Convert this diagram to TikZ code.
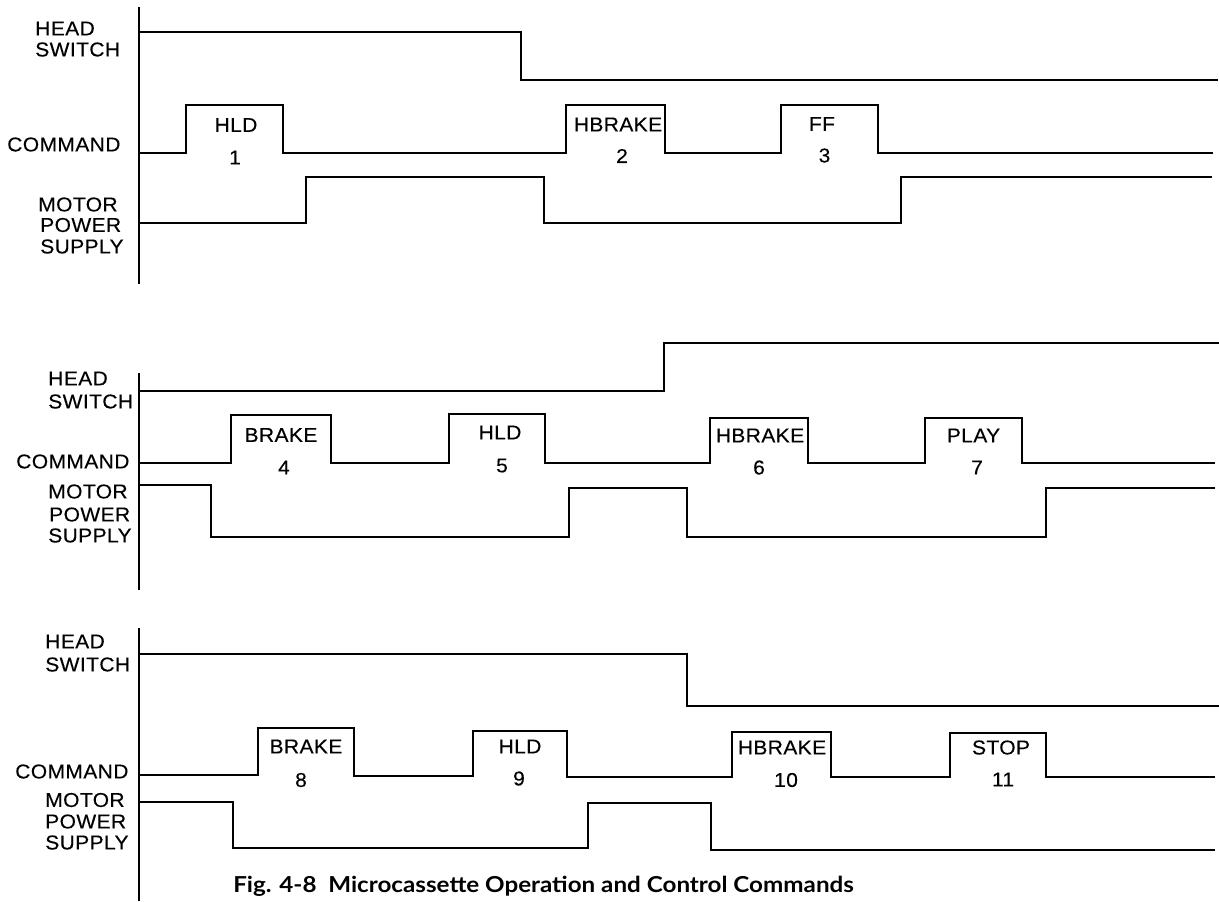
\documentclass[tikz,border=0pt]{standalone}
\usepackage{fontspec}
\setmainfont{Liberation Sans}
\newfontfamily\labfont[LetterSpace=2,FakeStretch=1.05,FakeBold=0.2]{Liberation Sans}
\newfontfamily\capfont[FakeStretch=1.1]{Lato}
\begin{document}
\begin{tikzpicture}[x=0.75pt,y=-0.75pt,
  wave/.style={line width=1.4pt,line join=miter},
  axis/.style={line width=1pt},
  sig/.style={anchor=west,inner sep=0pt,font=\labfont\fontsize{15}{18}\selectfont},
  cmd/.style={inner sep=0pt,font=\labfont\fontsize{15}{18}\selectfont},
  num/.style={inner sep=0pt,font=\labfont\fontsize{15}{18}\selectfont}]
\useasboundingbox[fill=white] (0,0) rectangle (1219,901);

% ---------- Panel 1 ----------
\draw[axis] (139,7) -- (139,284);
\node[sig] (hs1a) at (35,28.5) {HEAD};
\node[sig] (hs1b) at (35,49.5) {SWITCH};
\node[sig] (cm1) at (7,144.5) {COMMAND};
\node[sig] (mp1a) at (38,204.5) {MOTOR};
\node[sig] (mp1b) at (40,225) {POWER};
\node[sig] (mp1c) at (40,246.5) {SUPPLY};
\draw[wave] (140,32) -- (521,32) -- (521,80) -- (1218,80);
\draw[wave] (140,153) -- (186,153) -- (186,105) -- (283,105) -- (283,153) -- (566,153) -- (566,105) -- (665,105) -- (665,153) -- (781,153) -- (781,105) -- (878,105) -- (878,153) -- (1213,153);
\draw[wave] (140,223) -- (306,223) -- (306,177) -- (544,177) -- (544,223) -- (901,223) -- (901,177) -- (1212,177);
\node[cmd] (c1) at (236,125) {HLD};
\node[num] (n1) at (235,157.5) {1};
\node[cmd] (c2) at (618,124.5) {HBRAKE};
\node[num] (n2) at (622,156) {2};
\node[cmd] (c3) at (822,124) {FF};
\node[num] (n3) at (824.5,155.5) {3};

% ---------- Panel 2 ----------
\draw[axis] (139,373) -- (139,590);
\node[sig] (hs2a) at (48,378.5) {HEAD};
\node[sig] (hs2b) at (48,401.5) {SWITCH};
\node[sig] (cm2) at (16,461.5) {COMMAND};
\node[sig] (mp2a) at (48,491.5) {MOTOR};
\node[sig] (mp2b) at (49,514.5) {POWER};
\node[sig] (mp2c) at (48,535.5) {SUPPLY};
\draw[wave] (140,391) -- (664,391) -- (664,343) -- (1219,343);
\draw[wave] (140,463) -- (231,463) -- (231,415) -- (331,415) -- (331,463) -- (449,463) -- (449,414) -- (545,414) -- (545,463) -- (710,463) -- (710,418) -- (808,418) -- (808,463) -- (925,463) -- (925,418) -- (1022,418) -- (1022,463) -- (1215,463);
\draw[wave] (140,485) -- (211,485) -- (211,537) -- (569,537) -- (569,488) -- (687,488) -- (687,537) -- (1046,537) -- (1046,488) -- (1215,488);
\node[cmd] (c4) at (281,435) {BRAKE};
\node[num] (n4) at (284,467.5) {4};
\node[cmd] (c5) at (500,432.5) {HLD};
\node[num] (n5) at (502,465.5) {5};
\node[cmd] (c6) at (760,435.5) {HBRAKE};
\node[num] (n6) at (759,467.5) {6};
\node[cmd] (c7) at (973.5,435.5) {PLAY};
\node[num] (n7) at (977,467.5) {7};

% ---------- Panel 3 ----------
\draw[axis] (139,628) -- (139,901);
\node[sig] (hs3a) at (45,641.5) {HEAD};
\node[sig] (hs3b) at (45,664.5) {SWITCH};
\node[sig] (cm3) at (15,771.5) {COMMAND};
\node[sig] (mp3a) at (45,800) {MOTOR};
\node[sig] (mp3b) at (45,821.5) {POWER};
\node[sig] (mp3c) at (45,842.5) {SUPPLY};
\draw[wave] (140,654) -- (687,654) -- (687,706) -- (1219,706);
\draw[wave] (140,775) -- (258,775) -- (258,728) -- (354,728) -- (354,776) -- (473,776) -- (473,731) -- (567,731) -- (567,777) -- (732,777) -- (732,732) -- (831,732) -- (831,777) -- (950,777) -- (950,733) -- (1046,733) -- (1046,777) -- (1215,777);
\draw[wave] (140,802) -- (233,802) -- (233,848) -- (588,848) -- (588,803) -- (711,803) -- (711,850) -- (1215,850);
\node[cmd] (c8) at (306,746.5) {BRAKE};
\node[num] (n8) at (301,780) {8};
\node[cmd] (c9) at (520,746.5) {HLD};
\node[num] (n9) at (519,778.5) {9};
\node[cmd] (c10) at (782,747.5) {HBRAKE};
\node[num] (n10) at (786,780) {10};
\node[cmd] (c11) at (1001,747.5) {STOP};
\node[num] (n11) at (1003,779.5) {11};

% ---------- Caption ----------
\node[anchor=west,inner sep=0pt,font=\capfont\bfseries\fontsize{16.5}{19}\selectfont] (cap) at (233,886) {Fig. 4-8\ \ Microcassette Operation and Control Commands};
\end{tikzpicture}
\end{document}
